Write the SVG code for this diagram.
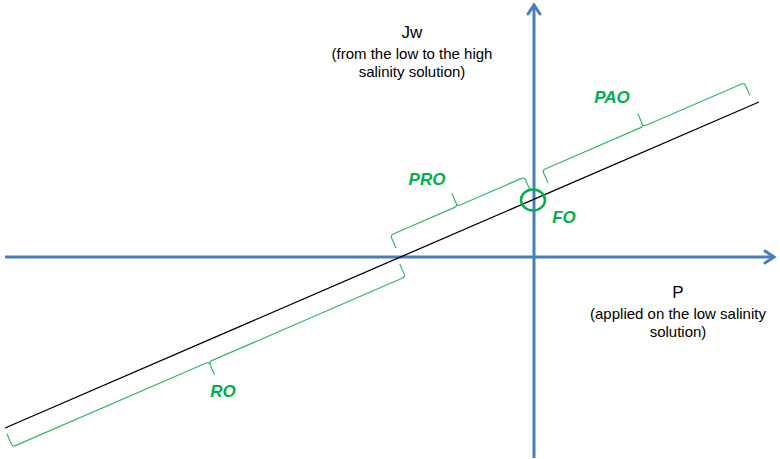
<svg xmlns="http://www.w3.org/2000/svg" width="780" height="459" viewBox="0 0 780 459">
<defs>
<style>
.axis{stroke:#4A7EBB;stroke-width:3;fill:none}
.brace{stroke:#33B86A;stroke-width:1.2;fill:none;stroke-linejoin:round}
.lbl{font-family:"Liberation Sans",Arial,sans-serif;font-weight:bold;font-style:italic;font-size:17px;fill:#00B050;text-anchor:middle}
.title{font-family:"Liberation Sans",Arial,sans-serif;font-size:17px;fill:#000;text-anchor:middle}
.sub{font-family:"Liberation Sans",Arial,sans-serif;font-size:15px;fill:#000;text-anchor:middle}
</style>
<marker id="arr" markerUnits="userSpaceOnUse" markerWidth="20" markerHeight="20" refX="0" refY="0" viewBox="-12 -10 14 20" orient="auto" overflow="visible">
<path d="M-9,-6 L0,0 L-9,6" fill="none" stroke="#4A7EBB" stroke-width="3" stroke-linecap="round" stroke-linejoin="miter"/>
</marker>
</defs>
<rect width="780" height="459" fill="#fff"/>
<g id="connectors">
<line class="axis" x1="5" y1="257" x2="774" y2="257" marker-end="url(#arr)"/>
<line class="axis" x1="534" y1="458" x2="534" y2="5" marker-end="url(#arr)"/>
<line x1="5" y1="428" x2="759" y2="102" stroke="#000" stroke-width="1.3"/>
</g>
<g id="jw-label">
<text class="title" x="412" y="38">Jw</text>
<text class="sub" x="412" y="59">(from the low to the high</text>
<text class="sub" x="412" y="77">salinity solution)</text>
</g>
<g id="p-label">
<text class="title" x="678" y="298">P</text>
<text class="sub" x="678" y="319">(applied on the low salinity</text>
<text class="sub" x="678" y="337">solution)</text>
</g>
<g id="ro">
<path class="brace" transform="translate(7,434) rotate(-23.4)" d="M0,0 L0,11 Q0,14 3,14 L211,14 Q214,14 214,17 L214,28 M214,17 Q214,14 217,14 L425,14 Q428,14 428,11 L428,0"/>
<text class="lbl" x="223" y="397">RO</text>
</g>
<g id="pro">
<path class="brace" transform="translate(396,248) rotate(-23.4) scale(1,-1)" d="M0,0 L0,11 Q0,14 3,14 L70,14 Q73,14 73,17 L73,28 M73,17 Q73,14 76,14 L143,14 Q146,14 146,11 L146,0"/>
<text class="lbl" x="427" y="185">PRO</text>
</g>
<g id="pao">
<path class="brace" transform="translate(548,183) rotate(-23.4) scale(1,-1)" d="M0,0 L0,11 Q0,14 3,14 L107,14 Q110,14 110,17 L110,28 M110,17 Q110,14 113,14 L217,14 Q220,14 220,11 L220,0"/>
<text class="lbl" x="612" y="103">PAO</text>
</g>
<g id="fo">
<ellipse cx="533" cy="200" rx="12" ry="10.5" fill="none" stroke="#00B050" stroke-width="2.5"/>
<text class="lbl" x="564" y="223">FO</text>
</g>
</svg>
